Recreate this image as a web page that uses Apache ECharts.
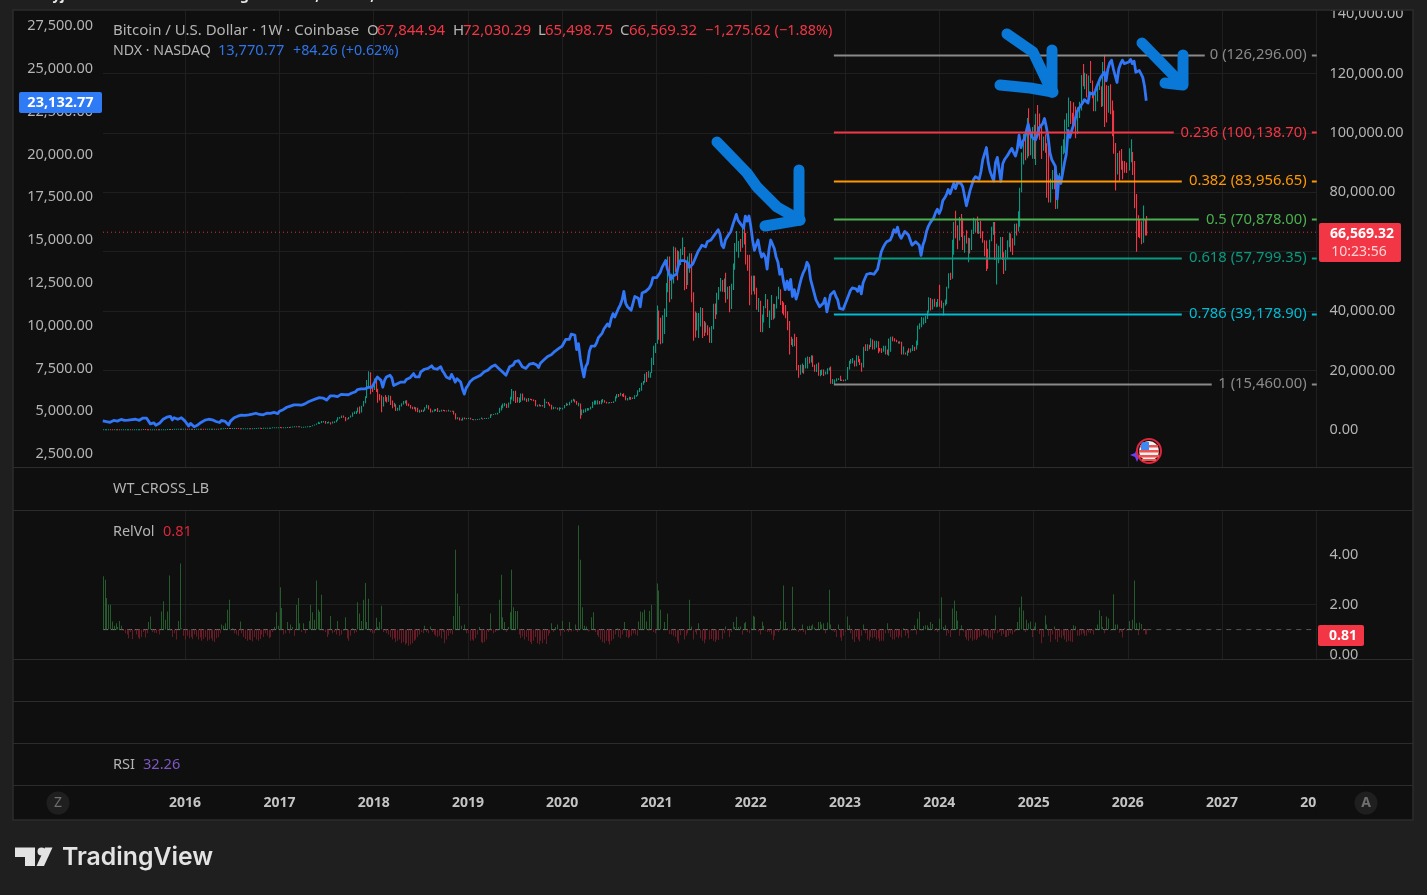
<!DOCTYPE html>
<html><head><meta charset="utf-8">
<style>html,body{margin:0;padding:0;background:#1f1f1f}#c{width:1427px;height:895px}</style>
<script src="https://cdn.jsdelivr.net/npm/echarts@6/dist/echarts.min.js"></script>
</head><body><div id="c"></div>
<script>
// ---- NDX weekly closes, by year (left scale) ----
const ndx2015=[4430,4440,4390,4430,4350,4410,4460,4420,4420,4490,4520,4480,4460,4510,4480,4500,4510,4420,4530,4490,4470,4580,4600,4540,4590,4570,4260,4230,4320,4180,4240,4290,4390,4530,4620,4650,4660,4700,4490,4620,4640,4530,4580,4620,4590];
const ndx2016=[4420,4270,4130,4290,4280,4090,4030,4200,4260,4360,4410,4480,4470,4530,4430,4500,4540,4400,4400,4340,4460,4520,4410,4300,4200,4420,4530,4620,4640,4710,4730,4770,4780,4760,4720,4790,4760,4830,4870,4880,4860,4810,4710,4790,4740,4880,4870,4870,4870,4930,4970,4860];
const ndx2017=[5000,5050,5090,5170,5230,5260,5300,5340,5370,5350,5370,5390,5350,5410,5430,5380,5550,5590,5640,5550,5720,5780,5790,5690,5770,5700,5650,5700,5890,5910,5900,5830,5850,5880,5980,5960,5970,5990,5960,6050,6060,6100,6140,6260,6210,6300,6340,6300,6330,6390,6360,6400];
const ndx2018=[6600,6800,7000,7050,6800,6400,6800,7000,6900,7100,6950,6500,6600,6600,6700,6700,6600,6700,6850,6900,6950,7050,7200,7000,7000,7000,7300,7350,7450,7400,7500,7550,7650,7500,7550,7450,7500,7600,7350,7200,7000,7000,6900,7150,6950,6700,6900,6900,6700,6300,6000,6350];
const ndx2019=[6500,6700,6800,6900,6950,7000,7050,7100,7100,7300,7250,7400,7400,7600,7600,7700,7800,7500,7600,7300,7200,7100,7350,7600,7600,7700,7900,7850,7950,7850,7600,7700,7500,7600,7750,7800,7800,7700,7700,7550,7800,7900,8000,8100,8200,8250,8300,8350,8500,8450,8650,8730];
const ndx2020=[8800,9000,9200,9100,9200,9500,9600,9450,8600,8950,8100,7500,7000,7600,7800,8500,8800,8700,8800,9000,9300,9300,9550,9800,9900,10100,9950,10400,10700,10500,10600,11000,11200,11500,12000,11300,11100,11000,10900,11300,11700,11800,11600,11100,11900,11900,12000,11900,12200,12400,12800,12900];
const ndx2021=[12800,12900,13100,13400,13500,13800,13300,13000,12700,12900,13000,13000,13500,13800,13900,13800,13850,13700,13400,13400,13600,13700,14100,14350,14500,14700,14800,14600,14900,14900,15000,15100,15300,15400,15600,15350,14700,14550,15000,14900,15350,15500,15850,15950,16500,16150,16000,15900,15700,16400,16100,16400];
const ndx2022=[15800,15000,14400,14500,15000,14400,14000,14200,14000,13300,14400,15000,14900,14500,14000,13700,13000,13300,12600,12100,12600,12100,12700,11700,12100,11550,11900,12400,12800,13100,13300,13700,13500,12700,12300,12300,11500,11500,11100,11000,11300,11600,10800,11300,11800,11700,12000,11700,11500,11000,11100,10950];
const ndx2023=[11000,11500,11600,12050,12200,12300,12150,12000,12300,11850,12500,12600,13000,13000,13050,12950,13000,13000,13300,13800,14300,14550,14750,14900,14900,15000,15250,15600,15450,15750,15300,15100,15000,15500,15450,15300,15000,14700,14700,14900,14900,14700,14100,14700,15000,15500,15800,16000,15900,16300,16600,16800];
const ndx2024=[16550,16800,17300,17450,17650,17950,17700,18000,18300,18000,18350,18250,18300,18100,18000,17000,17450,17900,18000,18550,18700,18800,18550,19000,19700,19700,20400,19520,19020,19020,18440,19510,19830,19720,18420,19450,19700,19850,20000,20200,20350,20100,19900,20300,21120,20400,20750,20930,21370,21780,21290,21010];
const ndx2025=[21000,20850,21100,21550,21480,21800,22100,21600,21000,20100,19700,19750,19300,17400,18700,18300,18900,19500,20000,21400,21000,21400,21700,21600,22500,22700,22800,23000,23200,23300,23000,23600,23600,23500,23700,24000,24250,24500,24650,24800,24300,25000,25350,25500,25000,25000,24200,25000,25300,25500,25300,25250];
const ndx2026=[25400,25550,25300,25450,24800,24750,24900,24700,24500,24000,23132.77];
// ---- BTC weekly closes 2015-16 (right scale) ----
const btc2015=[240,275,275,290,260,245,250,255,235,225,235,235,240,240,240,235,245,245,260,285,290,280,315,290,265,230,230,230,240,235,245,240,255,270,280,330,380,330,360,400,430,440,455,430,430];
const btc2016=[450,430,380,390,375,380,410,435,440,420,415,410,420,425,445,455,445,460,450,530,580,600,680,650,670,650,650,680,660,590,570,590,600,610,610,620,600,610,650,700,730,700,680,720,750,770,780,790,900,920,960,970];
// ---- BTC weekly close,high,low triples 2017+ (thousands) ----
const btc2017=[0.9,1.0,0.8, 0.83,0.91,0.75, 0.9,0.92,0.82, 0.92,0.93,0.88, 1.02,1.05,0.9, 1.0,1.05,0.97, 1.05,1.08,0.98, 1.15,1.2,1.05, 1.25,1.28,1.14, 1.22,1.3,0.98, 1.23,1.26,1.1, 0.97,1.25,0.9, 1.04,1.1,0.9, 1.1,1.12,1.02, 1.2,1.22,1.1, 1.2,1.24,1.15, 1.25,1.28,1.19, 1.35,1.37,1.24, 1.55,1.6,1.35, 1.75,1.85,1.55, 2.05,2.2,1.75, 2.05,2.79,2.0, 2.4,2.5,2.05, 2.55,3.0,2.4, 2.95,3.0,2.5, 2.5,3.0,2.1, 2.55,2.7,2.2, 2.55,2.9,2.3, 2.3,2.6,1.85, 2.75,2.9,2.2, 2.75,2.95,2.4, 3.25,3.45,2.65, 4.05,4.3,3.2, 4.1,4.4,3.8, 4.35,4.9,4.0, 4.3,4.9,4.1, 3.7,4.4,2.97, 3.6,3.9,3.5, 4.3,4.4,3.6, 4.6,4.9,4.2, 5.6,5.9,4.5, 6.0,6.2,5.4, 6.1,6.4,5.4, 7.4,7.6,6.0, 5.9,7.9,5.5, 8.0,8.2,5.9, 9.3,9.8,7.9, 11.2,11.4,9.0, 15.0,16.8,10.8, 19.4,19.8,14.8, 14.0,17.3,12.0, 13.9,15.5,12.8];
const btc2018=[16.2,17.3,13.5, 13.6,17.1,12.8, 11.6,13.9,9.2, 11.3,12.1,9.9, 8.2,11.7,6.0, 10.4,11.2,7.9, 10.3,11.8,9.6, 9.6,11.1,9.3, 11.5,11.7,9.5, 9.5,11.1,8.4, 8.5,9.9,7.3, 8.6,9.2,7.8, 6.9,8.7,6.4, 7.0,7.5,6.5, 8.0,8.4,6.6, 8.9,9.0,7.9, 8.9,9.8,8.6, 9.3,9.9,8.9, 8.6,10.0,8.2, 8.2,8.9,8.0, 7.3,8.4,7.2, 7.1,7.8,7.0, 7.6,7.8,7.0, 7.5,7.7,6.2, 6.2,6.9,6.0, 6.4,6.8,5.8, 6.3,6.8,6.1, 6.7,6.8,6.1, 7.5,7.7,6.5, 8.2,8.5,7.3, 7.0,8.3,6.9, 6.3,7.2,5.9, 6.5,6.6,6.0, 6.7,7.0,6.2, 7.0,7.1,6.4, 6.2,7.4,6.1, 6.5,6.6,6.1, 6.7,6.8,6.2, 6.6,6.8,6.4, 6.5,6.7,6.2, 6.3,6.6,6.2, 6.5,6.8,6.2, 6.4,6.5,6.3, 6.4,6.5,6.3, 5.6,6.5,5.2, 3.8,5.6,3.5, 4.0,4.3,3.6, 3.4,4.2,3.2, 3.2,3.6,3.2, 4.0,4.2,3.2, 3.8,4.2,3.6, 3.9,4.0,3.6];
const btc2019=[4.0,4.1,3.7, 3.6,4.1,3.5, 3.6,3.7,3.5, 3.5,3.6,3.4, 3.5,3.6,3.4, 3.6,3.7,3.4, 3.7,3.8,3.6, 3.9,4.2,3.7, 3.8,3.9,3.7, 3.9,4.0,3.8, 3.9,4.0,3.8, 4.0,4.1,3.9, 5.2,5.3,4.0, 5.1,5.3,4.9, 5.3,5.4,5.1, 5.3,5.6,5.2, 5.7,5.8,5.2, 7.2,7.5,5.7, 7.3,8.3,6.6, 8.0,8.9,7.5, 8.7,9.1,8.4, 7.9,8.8,7.4, 8.7,9.3,7.5, 10.7,11.2,8.9, 11.0,13.8,10.3, 11.9,13.1,9.7, 10.3,13.2,9.1, 9.5,11.1,9.3, 9.5,10.9,9.1, 11.8,12.3,9.4, 10.3,12.3,9.9, 10.3,10.9,9.9, 9.6,10.6,9.4, 10.5,10.8,9.6, 10.4,10.5,10.1, 10.2,10.4,9.9, 10.0,10.3,9.7, 8.2,10.1,8.0, 8.3,8.5,7.8, 8.2,8.7,8.0, 8.3,8.4,7.9, 8.2,8.4,7.9, 9.5,10.5,7.4, 9.2,9.5,9.0, 8.8,9.4,8.6, 8.5,8.8,8.0, 7.3,8.5,6.9, 7.4,7.8,7.0, 7.5,7.7,7.2, 7.1,7.4,6.9, 7.2,7.7,6.5, 7.2,7.5,7.1];
const btc2020=[7.4,7.5,6.9, 8.2,8.4,7.3, 8.7,9.2,8.1, 8.4,8.8,8.3, 9.3,9.5,8.3, 9.9,10.2,9.2, 9.9,10.5,9.7, 9.7,10.3,9.3, 8.7,9.8,8.5, 8.9,9.2,8.0, 5.2,8.2,3.8, 5.9,6.9,5.0, 6.2,6.9,5.7, 6.8,7.2,6.0, 6.9,7.4,6.5, 7.1,7.3,6.6, 7.5,7.8,6.9, 8.8,9.5,7.4, 8.8,9.9,8.5, 9.3,9.9,8.6, 9.7,10.0,8.6, 8.7,9.8,8.7, 9.4,10.2,8.9, 9.7,10.4,9.3, 9.5,10.0,9.2, 9.0,9.5,8.9, 9.2,9.3,8.9, 9.3,9.4,9.0, 9.2,9.4,9.1, 9.7,9.7,9.1, 11.0,11.4,9.6, 11.8,12.1,10.7, 11.6,12.1,11.1, 11.9,12.5,11.5, 11.7,12.1,11.3, 11.5,12.4,11.1, 10.3,11.6,10.0, 10.3,10.8,9.9, 11.1,11.2,10.2, 10.7,11.1,10.2, 10.8,10.9,10.4, 11.4,11.7,10.4, 11.5,11.8,11.2, 13.0,13.4,11.5, 13.5,14.1,12.8, 15.5,15.9,13.2, 16.0,16.5,15.2, 18.7,18.9,15.9, 18.2,19.5,16.2, 19.1,19.9,17.6, 19.2,19.4,17.6, 23.3,24.3,19.2, 26.4,28.4,21.9, 29.0,29.3,25.9];
const btc2021=[40.2,41.9,29.0, 36.0,40.1,30.4, 32.3,37.8,28.9, 34.3,38.6,29.2, 39.3,40.9,32.3, 48.6,49.5,38.0, 57.5,58.4,46.4, 45.2,58.4,43.0, 50.9,52.6,44.0, 61.2,61.8,49.3, 58.0,61.4,53.2, 55.9,60.5,50.4, 58.8,60.2,54.9, 59.9,61.0,55.5, 60.0,64.8,58.9, 56.3,61.6,47.0, 50.1,56.5,47.5, 56.6,58.4,48.8, 58.2,59.5,52.9, 46.4,59.5,43.0, 37.5,45.8,30.0, 34.6,39.9,31.1, 35.8,39.5,33.5, 35.8,39.4,31.0, 39.0,41.3,34.8, 35.5,41.1,31.0, 34.7,36.7,31.6, 35.3,36.2,32.7, 34.2,35.1,31.9, 31.5,34.6,29.4, 34.3,35.0,29.3, 42.0,42.5,33.9, 39.9,42.6,37.4, 44.6,46.2,38.9, 47.0,48.1,43.8, 48.9,51.2,46.6, 47.0,50.5,46.5, 50.0,51.0,46.4, 45.2,52.9,42.8, 47.9,48.2,44.0, 43.2,48.5,39.6, 48.2,49.2,40.7, 55.0,56.0,47.1, 60.9,62.9,53.9, 61.3,67.0,60.0, 61.9,63.6,58.0, 61.5,64.3,60.0, 64.8,68.8,61.3, 64.4,69.0,62.4, 58.6,66.3,55.7, 55.0,59.0,53.6, 49.4,59.0,42.0];
const btc2022=[47.2,51.9,45.5, 50.8,52.0,46.7, 46.7,51.9,45.6, 41.7,47.9,40.5, 43.1,44.4,39.7, 36.3,43.5,33.0, 37.9,38.9,32.9, 41.4,41.7,36.2, 42.2,45.8,41.0, 38.4,44.0,38.0, 39.1,40.2,34.3, 39.4,45.4,37.0, 37.8,42.5,37.2, 41.3,42.4,37.6, 44.5,45.0,40.9, 45.8,48.2,44.0, 42.2,47.4,42.1, 40.4,43.4,39.2, 39.7,42.9,38.6, 38.5,42.1,37.6, 34.0,40.0,33.6, 30.1,36.7,25.4, 29.4,31.4,28.6, 29.9,30.7,28.0, 28.4,32.4,28.2, 20.6,31.3,20.1, 19.2,21.9,17.6, 21.5,22.0,18.6, 21.6,22.4,19.3, 20.8,21.9,18.9, 22.6,24.3,20.7, 23.8,24.7,20.7, 23.2,24.6,22.4, 24.3,25.2,22.7, 21.5,25.1,21.2, 20.0,22.0,19.6, 21.8,22.3,19.5, 19.4,22.7,18.3, 19.4,20.2,18.1, 19.4,20.4,18.5, 19.1,20.4,18.2, 19.6,19.7,18.7, 20.6,20.8,18.8, 20.9,21.0,20.0, 16.3,21.4,15.6, 16.3,17.2,15.5, 16.4,17.0,15.46, 17.0,17.4,16.3, 17.1,17.4,16.8, 16.8,18.3,16.5, 16.8,17.0,16.5, 16.5,16.9,16.4];
const btc2023=[16.9,17.1,16.5, 20.9,21.2,16.9, 22.7,23.3,20.4, 23.1,23.9,22.3, 23.3,24.2,22.5, 21.8,23.4,21.4, 24.6,25.2,21.5, 23.2,25.0,22.8, 22.4,23.9,21.9, 21.4,22.6,19.6, 27.6,28.0,21.0, 27.5,28.9,26.6, 28.5,28.9,26.6, 28.3,28.7,27.2, 30.3,30.9,27.9, 27.6,30.5,27.1, 28.3,30.0,27.1, 29.5,30.0,27.7, 26.9,29.9,25.8, 26.8,27.6,26.4, 26.7,27.5,25.9, 27.1,28.4,26.3, 27.1,28.4,25.4, 25.9,26.4,25.3, 26.3,30.8,25.0, 30.5,31.4,29.5, 30.3,31.5,29.9, 30.2,30.9,29.8, 29.8,30.4,29.5, 29.3,29.7,29.1, 29.4,29.9,29.0, 26.0,29.7,25.4, 26.0,28.1,25.4, 25.8,26.1,25.4, 26.5,26.8,25.0, 26.2,27.5,26.0, 26.6,27.4,26.1, 27.9,28.6,26.9, 27.1,28.0,26.6, 28.5,30.1,28.1, 34.1,35.2,28.9, 35.0,35.9,33.9, 37.0,38.0,34.6, 37.4,37.9,35.5, 37.7,38.4,36.0, 39.5,40.2,37.4, 44.0,44.7,39.9, 41.4,44.4,40.2, 43.7,44.0,40.6, 42.3,44.2,41.5, 42.3,43.1,41.3, 43.9,44.1,41.5];
const btc2024=[42.8,48.9,41.5, 41.6,43.6,41.0, 42.0,42.8,38.5, 43.0,43.9,41.8, 47.8,48.2,42.3, 52.1,52.8,47.6, 51.7,52.9,50.5, 63.0,64.0,50.9, 68.9,70.0,59.0, 68.2,73.8,64.5, 63.8,68.9,60.8, 69.6,71.7,64.5, 69.3,72.7,65.0, 63.9,71.3,60.6, 64.9,65.5,59.7, 63.4,67.2,62.8, 64.0,64.7,56.5, 61.5,64.5,59.4, 66.2,67.4,60.6, 68.5,71.4,66.0, 68.5,70.6,66.6, 67.7,71.9,66.1, 69.6,70.0,66.0, 66.2,70.4,64.5, 63.2,66.9,63.0, 62.7,63.9,58.5, 58.2,63.8,53.5, 58.0,61.0,54.3, 64.0,64.0,57.5, 67.9,68.4,63.5, 68.2,70.0,65.7, 58.7,70.0,57.2, 58.7,62.7,49.0, 58.7,62.0,56.1, 64.2,65.0,57.8, 59.0,65.0,57.2, 54.0,59.8,52.5, 60.0,60.6,53.6, 63.3,63.9,57.5, 65.6,66.5,61.5, 63.6,66.1,60.0, 63.0,64.5,58.9, 68.4,69.4,62.1, 68.0,69.5,65.5, 68.4,73.6,66.8, 80.0,81.5,68.5, 90.5,93.4,80.3, 97.7,99.6,89.4, 97.5,99.8,90.8, 101.4,105.0,91.5, 95.2,108.3,92.1, 95.3,99.9,92.5, 98.3,102.0,91.3];
const btc2025=[94.5,102.7,91.2, 104.5,106.4,89.2, 102.6,109.4,100.2, 100.6,106.5,97.7, 96.5,102.5,91.2, 97.5,98.8,94.0, 96.2,99.5,93.3, 94.2,96.5,78.2, 80.7,95.0,76.6, 82.6,84.6,76.6, 86.0,87.5,81.0, 82.4,88.8,81.0, 78.2,88.5,74.4, 83.7,86.0,74.5, 85.1,86.5,83.0, 93.7,95.7,84.6, 94.3,97.9,92.8, 104.2,104.5,93.3, 106.4,106.6,100.7, 107.0,111.9,102.0, 105.7,110.7,103.0, 105.6,106.8,100.4, 105.5,110.3,102.6, 101.0,108.9,98.2, 108.4,108.6,99.6, 109.2,110.5,105.0, 119.0,119.5,107.5, 117.3,123.2,115.7, 117.6,120.2,114.7, 113.3,119.8,112.0, 119.3,119.3,112.6, 117.4,124.2,116.8, 113.5,117.6,111.7, 108.3,113.5,107.3, 111.0,113.3,107.3, 115.3,116.7,110.6, 115.7,117.9,114.4, 109.6,115.4,108.7, 123.4,123.9,109.0, 115.0,126.3,102.0, 108.6,116.0,103.5, 114.5,115.9,106.8, 110.0,116.4,106.3, 104.7,110.9,98.9, 94.0,107.5,93.0, 86.8,96.6,80.6, 90.4,93.2,86.0, 89.3,94.0,83.9, 88.2,94.6,87.6, 88.1,90.6,84.4, 87.6,90.5,86.6, 87.5,90.0,86.5];
const btc2026=[91.5,94.8,87.3, 93.6,97.9,90.1, 86.6,93.2,85.8, 78.7,90.5,74.6, 70.3,79.4,60.0, 68.8,72.3,65.0, 67.5,70.8,64.5, 65.9,70.3,62.5, 68.2,75.6,63.0, 67.845,71.0,65.5, 66.569,72.03,65.498];
// ---- Relative volume by year ----
const rv2015=[3.14,3.0,2.27,2.0,2.0,1.33,1.15,1.25,1.1,1.35,1.15,0.95,0.85,0.8,0.65,0.9,0.62,0.95,0.8,0.68,0.62,0.7,0.9,0.68,0.85,1.3,1.53,0.9,0.87,0.85,0.95,0.8,1.73,2.14,1.4,1.73,3.17,0.95,0.7,0.85,0.6,1.35,3.65,1.05,0.75];
const rv2016=[0.6,0.75,0.65,0.7,0.62,0.8,0.72,0.6,0.68,0.55,0.62,0.7,0.55,0.6,0.65,0.55,0.5,0.65,0.7,0.85,1.2,1.15,1.25,1.8,2.2,0.95,1.05,0.85,0.8,0.75,1.33,0.85,0.7,0.62,0.55,0.6,0.58,0.52,0.7,0.6,0.55,0.62,0.8,0.7,0.85,0.75,0.65,0.7,0.9,1.1,1.7,1.15];
const rv2017=[2.7,1.87,0.8,0.85,1.3,0.85,1.2,1.1,0.75,1.99,2.27,1.25,0.9,1.25,0.85,1.0,1.35,2.0,1.7,1.4,2.97,1.8,1.72,2.4,0.95,0.9,0.7,0.8,1.55,0.85,0.9,0.8,1.35,0.75,0.8,0.95,1.5,0.65,0.55,0.75,1.05,0.85,0.9,2.1,1.65,1.35,2.2,2.87,1.3,2.24,0.9,0.85];
const rv2018=[0.85,1.48,1.1,1.3,1.96,0.9,0.95,0.85,0.8,0.7,0.6,0.65,0.5,0.55,0.6,0.45,0.5,0.4,0.45,0.35,0.4,0.45,0.55,0.6,0.7,0.8,0.9,0.85,1.15,0.9,0.85,1.12,0.9,0.8,0.75,0.7,0.75,0.65,0.9,0.45,0.6,0.75,0.85,0.8,1.55,4.2,2.45,1.95,1.15,1.0,1.2,0.85];
const rv2019=[0.85,0.55,0.6,0.55,0.65,0.8,1.1,0.5,0.45,0.5,0.6,0.9,1.65,0.95,0.85,0.9,0.95,2.2,3.2,1.5,1.3,0.9,1.1,1.7,3.4,1.9,1.75,1.75,0.8,0.65,0.72,0.6,0.7,0.55,0.5,0.42,0.55,0.7,0.45,0.4,0.55,0.45,0.6,0.42,0.75,0.85,1.25,0.9,1.1,1.2,0.95,0.75];
const rv2020=[1.35,0.9,0.95,0.9,1.3,0.92,0.95,1.2,0.9,5.18,3.8,1.9,1.15,1.12,0.92,0.95,1.5,1.7,0.9,0.78,0.7,0.6,0.5,0.45,0.55,0.52,0.4,0.55,0.62,0.8,1.05,0.7,0.65,0.8,1.3,0.7,0.65,0.7,0.75,0.85,0.8,0.75,1.33,1.73,1.7,1.8,1.33,0.95,1.75,2.0,0.9,0.85];
const rv2021=[2.85,2.57,1.8,1.0,1.3,0.98,1.65,0.82,0.8,0.75,0.7,0.55,0.45,0.78,0.95,0.6,0.75,0.85,2.2,1.12,0.6,0.9,0.8,1.25,0.65,0.55,0.45,0.6,1.02,0.6,0.62,0.55,0.5,0.6,0.58,1.02,0.62,0.85,1.12,0.95,0.7,0.9,1.3,1.1,1.52,1.1,1.12,0.8,1.25,1.3,0.9,0.85];
const rv2022=[1.05,1.56,1.52,0.97,0.92,0.8,1.32,1.15,0.95,0.9,0.9,0.8,0.58,0.75,0.95,0.9,1.36,0.95,2.77,1.3,1.05,0.95,0.95,2.72,1.08,0.95,0.9,0.95,1.2,0.9,0.8,1.13,1.15,1.15,1.2,1.08,0.95,1.3,1.32,1.2,1.25,0.85,1.28,2.6,1.2,0.95,0.9,0.7,1.2,0.68,0.55,0.75];
const rv2023=[0.9,1.53,1.17,0.85,0.6,0.5,0.7,0.6,0.52,0.75,1.2,0.85,0.6,0.55,0.7,0.65,0.7,0.6,0.65,0.52,0.55,0.55,0.85,1.25,0.85,0.7,0.6,0.6,0.7,0.65,0.75,0.68,1.05,0.75,0.85,0.65,0.95,0.95,1.17,0.8,1.45,1.72,0.95,1.14,1.17,1.17,1.08,1.3,1.22,0.95,1.05,0.9];
const rv2024=[1.45,2.3,1.1,1.17,0.75,0.85,0.7,1.85,2.17,1.75,1.37,0.75,1.17,0.92,0.7,0.6,0.55,0.65,0.55,0.6,0.58,0.65,0.7,0.75,0.8,0.75,0.72,0.65,0.68,0.6,0.85,1.57,0.85,0.9,0.75,0.82,0.7,0.7,0.75,0.85,0.8,0.9,0.95,1.3,1.9,2.33,1.77,0.9,1.4,1.25,1.33,0.7];
const rv2025=[1.12,1.28,0.95,0.82,0.45,0.7,1.57,1.2,0.75,0.5,0.8,1.12,0.6,0.5,0.7,0.65,0.75,0.6,0.5,0.55,0.52,0.5,1.17,1.13,0.75,0.75,0.8,0.85,0.75,0.75,0.88,0.85,0.95,0.8,1.05,1.2,1.78,1.55,1.1,0.85,1.53,1.45,0.95,1.0,2.42,1.2,1.2,0.87,0.9,0.68,1.05,0.95];
const rv2026=[1.35,0.95,1.4,2.97,1.25,0.78,1.28,1.22,0.95,0.8,0.81];
// ---- Axis ticks and Fibonacci levels ----
const rightTicks=[0,20000,40000,60000,80000,100000,120000,140000];
const leftTicks=[2500,5000,7500,10000,12500,15000,17500,20000,22500,25000,27500];
const relVolTicks=[0,2,4];
const fibRatios=['0','0.236','0.382','0.5','0.618','0.786','1'];
const fibPrices=[126296,100138.7,83956.65,70878,57799.35,39178.9,15460];
const fibColors=['#8a8a8a','#f23645','#ff9800','#4caf50','#089981','#00bcd4','#8a8a8a'];
const fibLineEnds=['2026-10-26','2026-06-28','2026-07-29','2026-10-03','2026-07-29','2026-07-29','2026-11-22'];
const fibStart='2022-11-19', fibLabelAt='2027-11-25', fibTickFrom='2027-12-15', fibTickTo='2028-01-03';
const lastClose=66569.32;

const DAY=864e5, d=s=>Date.parse(s+'T00:00:00Z');
const X0=d('2015-02-17'), X1=d('2028-01-02');
const yearRanges=[['2015-02-16','2016-01-01'],['2016-01-01','2017-01-01'],['2017-01-01','2018-01-01'],['2018-01-01','2019-01-01'],['2019-01-01','2020-01-01'],['2020-01-01','2021-01-01'],['2021-01-01','2022-01-01'],['2022-01-01','2023-01-01'],['2023-01-01','2024-01-01'],['2024-01-01','2025-01-01'],['2025-01-01','2026-01-01'],['2026-01-05','2026-03-20']];
function spread(yrArrays){const out=[];yrArrays.forEach((arr,k)=>{const a=d(yearRanges[k][0]),b=d(yearRanges[k][1]),st=(b-a)/arr.length;arr.forEach((v,i)=>out.push([a+i*st,v]));});return out;}
const ndxData=spread([ndx2015,ndx2016,ndx2017,ndx2018,ndx2019,ndx2020,ndx2021,ndx2022,ndx2023,ndx2024,ndx2025,ndx2026]);
const rvData=spread([rv2015,rv2016,rv2017,rv2018,rv2019,rv2020,rv2021,rv2022,rv2023,rv2024,rv2025,rv2026]);
function triples(a){const o=[];for(let i=0;i<a.length;i+=3)o.push({c:a[i]*1000,h:a[i+1]*1000,l:a[i+2]*1000});return o;}
const early=a=>a.map(c=>({c,h:null,l:null}));
const btcSeq=spread([early(btc2015),early(btc2016),triples(btc2017),triples(btc2018),triples(btc2019),triples(btc2020),triples(btc2021),triples(btc2022),triples(btc2023),triples(btc2024),triples(btc2025),triples(btc2026)]);
let prev=btc2015[0];
const candles=btcSeq.map(([t,b])=>{const o=prev,c=b.c;prev=c;const h=b.h==null?Math.max(o,c):Math.max(b.h,o,c),l=b.l==null?Math.min(o,c):Math.min(b.l,o,c);return [t,o,c,l,h];});
const lastT=candles[candles.length-1][0];

const money=v=>v.toLocaleString('en-US',{minimumFractionDigits:2,maximumFractionDigits:2});
const FONT='"Noto Sans"';
const labelCol='#b4b4b4';
const gridCol='#1f1f1f';
const sepCol='#2c2c2c';
const UP='#089981',DOWN='#f23645';

function timeAxis(grid,show){return {type:'time',gridIndex:grid,min:X0,max:X1,splitNumber:13,minInterval:365*DAY,
  axisLine:{show:false},axisTick:{show:false},
  splitLine:{show:!show,showMinLine:false,showMaxLine:false,lineStyle:{color:gridCol,width:1}},
  axisLabel:{show:show,margin:11,color:'#c4c4c4',fontFamily:FONT,fontSize:14,fontWeight:'bold',interval:0,showMinLabel:false,showMaxLabel:false,hideOverlap:false,formatter:v=>String(new Date(v).getUTCFullYear())}};}
function yVal(grid,pos,min,max,ticks,margin,split){return {type:'value',gridIndex:grid,position:pos,min,max,scale:true,
  axisLine:{show:false},axisTick:{show:false,customValues:ticks},
  splitLine:{show:split,showMinLine:false,showMaxLine:false,lineStyle:{color:gridCol}},
  axisLabel:{margin,color:labelCol,fontFamily:FONT,fontSize:14.5,padding:[5,0,0,0],customValues:ticks,formatter:v=>money(v),showMinLabel:true,showMaxLabel:true}};}

const T=(x,y,text,fill,o={})=>({type:'text',x,y,z:o.z||60,style:{text,fill,font:(o.w||'normal')+' '+(o.s||15)+'px '+(o.f||FONT),align:o.a||'left',verticalAlign:'middle'}});
const R=(x,y,w,h,fill,z,r)=>({type:'rect',z:z||50,shape:{x,y,width:w,height:h,r:r||0},style:{fill}});
const H=(y)=>({type:'line',z:55,shape:{x1:13,y1:y,x2:1413,y2:y},style:{stroke:sepCol,lineWidth:1}});
const stroke=(pts)=>({type:'polyline',z:70,shape:{points:pts},style:{stroke:'#0a78d6',lineWidth:11,lineCap:'round',lineJoin:'round',fill:null}});
const graphics=[
 // page frame
 R(0,0,1427,10,'#1f1f1f',50),R(0,820,1427,75,'#1f1f1f',50),R(0,0,13,895,'#1f1f1f',50),R(1413,0,14,895,'#1f1f1f',50),
 T(13,-4,'moneyjarvin created with TradingView.com, Mar 17, 2026 16:03 UTC-5','#e6e6e6',{w:'bold',s:14}),
 H(467.5),H(510.5),H(659.5),H(701.5),H(743.5),H(785.5),
 {type:'rect',z:56,shape:{x:13,y:10,width:1400,height:810},style:{fill:null,stroke:sepCol,lineWidth:1.5}},
 // legends
 T(113,31,'Bitcoin / U.S. Dollar · 1W · Coinbase','#b4b4b4'),
 T(367,31,'O','#b4b4b4'),T(377,31,'67,844.94','#f23645'),
 T(453,31,'H','#b4b4b4'),T(463,31,'72,030.29','#f23645'),
 T(538,31,'L','#b4b4b4'),T(545,31,'65,498.75','#f23645'),
 T(620,31,'C','#b4b4b4'),T(629,31,'66,569.32','#f23645'),
 T(705,31,'−1,275.62 (−1.88%)','#f23645',{s:14.5}),
 T(113,51,'NDX · NASDAQ','#b4b4b4',{s:14.2}),T(218,51,'13,770.77','#2f74e8',{s:14.6}),T(293,51,'+84.26 (+0.62%)','#2f74e8',{s:14.3}),
 T(113,489,'WT_CROSS_LB','#b4b4b4',{s:14.4}),
 T(113,532,'RelVol','#b4b4b4',{s:14.4}),T(163,532,'0.81','#d9263a',{s:14.6}),
 T(113,765,'RSI','#b4b4b4',{s:14.6}),T(143,765,'32.26','#7e57c2',{s:14.6}),
 // price tags
 R(19,92,83,21,'#2f7bf6',60,2),T(60.5,103,'23,132.77','#ffffff',{w:'bold',a:'center',z:61,s:14.5}),
 R(1319,223,82,39,'#f23645',60,2),T(1362,234,'66,569.32','#ffffff',{w:'bold',a:'center',z:61,s:14}),T(1359,252,'10:23:56','#ffd2d6',{a:'center',z:61,s:14}),
 R(1318,625,46,21,'#f23645',60,2),T(1343,636,'0.81','#ffffff',{w:'bold',a:'center',z:61,s:14}),
 // clip
 R(1320,660,90,7,'#0f0f0f',54),
 R(1316.5,790,96,25,'#0f0f0f',54),
 // Z / A buttons
 {type:'circle',z:60,shape:{cx:58,cy:803,r:11.5},style:{fill:'#1f1f1f'}},T(58,803,'Z','#6f6f6f',{a:'center',z:61,s:14}),
 {type:'circle',z:60,shape:{cx:1366,cy:803,r:11.5},style:{fill:'#1f1f1f'}},T(1366,803,'A','#6f6f6f',{a:'center',z:61,w:'bold',s:14}),
 // event flag
 {type:'polygon',z:60,shape:{points:[[1130,455],[1135,453],[1137,448],[1139,453],[1143,455],[1139,457],[1137,462],[1135,457]]},style:{fill:'#6e3ff0'}},
 {type:'circle',z:61,shape:{cx:1149,cy:451,r:12},style:{fill:'#111',stroke:'#e0243c',lineWidth:2}},
 {type:'circle',z:62,shape:{cx:1149,cy:451,r:10},style:{fill:'#f2f2f2'}},
 R(1140,445,18,2.5,'#ef5350',63),R(1139,450,20,2.5,'#ef5350',63),R(1139,455,20,2.5,'#ef5350',63),R(1142,459,14,2,'#ef5350',63),
 {type:'rect',z:64,shape:{x:1141,y:442,width:8,height:8,r:[3,0,0,0]},style:{fill:'#3d8bf2'}},
 // hand-drawn arrows
 stroke([[717,142],[747,173],[757,187],[777,207],[800,220]]),stroke([[799,170],[799,220]]),stroke([[765,226],[800,220]]),
 stroke([[1007,34],[1033,52],[1052,92]]),stroke([[1052,50],[1052,92]]),stroke([[1000,85],[1030,88],[1053,92]]),
 stroke([[1142,43],[1180,82]]),stroke([[1183,55],[1183,83]]),stroke([[1165,83],[1183,85]]),
 // TradingView mark
 {type:'polygon',z:60,shape:{points:[[15,847.5],[35,847.5],[35,866],[25,866],[25,857],[15,857]]},style:{fill:'#e3e3e3'}},
 {type:'circle',z:60,shape:{cx:41.5,cy:851.5,r:4},style:{fill:'#e3e3e3'}},
 {type:'polygon',z:60,shape:{points:[[52.5,847.5],[44,866],[36.5,866],[45,847.5]]},style:{fill:'#e3e3e3'}},
 T(62,858,'TradingView','#e3e3e3',{f:'Inter',w:'600',s:24.8}),
];

const option={
 useUTC:true,animation:false,backgroundColor:'#0f0f0f',
 grid:[{left:103,right:110.5,top:10,height:457},{left:103,right:110.5,top:510,height:149},{left:103,right:110.5,top:743,height:42}],
 xAxis:[timeAxis(0,false),timeAxis(1,false),timeAxis(2,true)],
 yAxis:[
  yVal(0,'right',-12450,141360,rightTicks,13,true),
  yVal(0,'left',1741,28435,leftTicks,10,false),
  yVal(1,'right',-0.18,5.8,relVolTicks,13,true),
  {type:'value',gridIndex:2,show:false,min:0,max:1,splitLine:{show:false}}
 ],
 series:[
  {name:'BTC',type:'custom',xAxisIndex:0,yAxisIndex:0,z:2,data:candles,encode:{x:0,y:[1,2,3,4]},
   renderItem:(params,api)=>{const t=api.value(0),o=api.value(1),c=api.value(2),l=api.value(3),h=api.value(4);
     const po=api.coord([t,o]),pc=api.coord([t,c]),pl=api.coord([t,l]),ph=api.coord([t,h]);
     const x=Math.round(po[0]),col=c>=o?UP:DOWN,top=Math.min(po[1],pc[1]),bh=Math.max(1,Math.abs(po[1]-pc[1]));
     return {type:'rect',shape:{x:x,y:Math.min(ph[1],top),width:1.1,height:Math.max(bh,pl[1]-ph[1])},style:{fill:col}};}},
  {name:'NDX',type:'line',xAxisIndex:0,yAxisIndex:1,data:ndxData,showSymbol:false,z:3,lineStyle:{color:'#3176f6',width:2.8,join:'round'}},
  {name:'Last',type:'line',xAxisIndex:0,yAxisIndex:0,data:[[X0,lastClose],[X1,lastClose]],showSymbol:false,z:3,lineStyle:{color:'#f23645',width:1,type:[1,3],opacity:.9}},
  {name:'Fib',type:'custom',xAxisIndex:0,yAxisIndex:0,z:4,clip:false,data:fibPrices.map((p,i)=>[i,p]),encode:{y:1},
   renderItem:(params,api)=>{const i=api.value(0),p=api.value(1),col=fibColors[i];
     const a=api.coord([d(fibStart),p]),b=api.coord([d(fibLineEnds[i]),p]),t=api.coord([d(fibLabelAt),p]),k0=api.coord([d(fibTickFrom),p]),k1=api.coord([d(fibTickTo),p]);
     return {type:'group',children:[
      {type:'line',shape:{x1:a[0],y1:Math.round(a[1])+.5,x2:b[0],y2:Math.round(a[1])+.5},style:{stroke:col,lineWidth:2}},
      {type:'line',shape:{x1:k0[0],y1:Math.round(a[1])+.5,x2:k1[0],y2:Math.round(a[1])+.5},style:{stroke:col,lineWidth:2}},
      {type:'text',style:{x:t[0],y:t[1],text:fibRatios[i]+' ('+money(p)+')',fill:col,font:'14.8px '+FONT,align:'right',verticalAlign:'middle'}}
     ]};}},
  {name:'RelVol',type:'custom',xAxisIndex:1,yAxisIndex:2,z:2,data:rvData,encode:{x:0,y:1},
   renderItem:(params,api)=>{const t=api.value(0),v=api.value(1),a=api.coord([t,1]),b=api.coord([t,v]);
     return {type:'rect',shape:{x:Math.round(a[0]),y:Math.min(a[1],b[1]),width:1,height:Math.abs(a[1]-b[1])},style:{fill:v>=1?'#255a2c':'#681b26'}};}},
  {name:'RelBase',type:'line',xAxisIndex:1,yAxisIndex:2,data:[[X0,1],[lastT,1]],showSymbol:false,z:1,lineStyle:{color:'#7a7a7a',width:1,type:[5,3]}},
  {name:'RelRest',type:'line',xAxisIndex:1,yAxisIndex:2,data:[[lastT,1],[X1,1]],showSymbol:false,z:1,lineStyle:{color:'#555',width:1,type:[5,5]}}
 ],
 graphic:{elements:graphics}
};
const chart=echarts.init(document.getElementById('c'),null,{renderer:'canvas',width:1427,height:895});
chart.setOption(option);
</script></body></html>
